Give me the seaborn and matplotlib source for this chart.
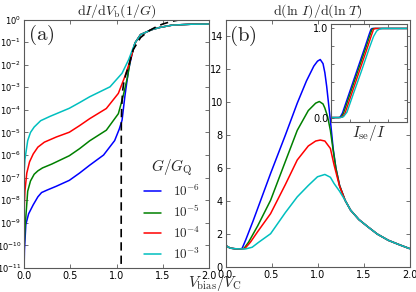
import numpy as np
import pandas as pd
import matplotlib.pyplot as plt
import seaborn as sns

# ---- data ----
g_labels = [r'$10^{-6}$', r'$10^{-5}$', r'$10^{-4}$', r'$10^{-3}$']
g_colors = ['#0000ff', '#008000', '#ff0000', '#00bfbf']

# panel (a): log10 of dI/dV, shared tail above V ~ 1.2
a_tail_x = [1.2, 1.26, 1.38, 1.47, 1.6, 1.8, 2.0]
a_tail_log = [-1.04, -0.67, -0.45, -0.35, -0.25, -0.21, -0.2]

a_blue_x = [0.0, 0.005, 0.02, 0.05, 0.1, 0.15, 0.19, 0.25, 0.35, 0.49, 0.6, 0.71, 0.86, 0.98,
            1.03, 1.06, 1.09, 1.13, 1.17]
a_blue_log = [-11.2, -10.2, -9.07, -8.6, -8.2, -7.85, -7.66, -7.55, -7.38, -7.12, -6.8, -6.45,
              -6.0, -5.36, -4.85, -4.46, -3.42, -2.23, -1.49]
a_green_x = [0.0, 0.01, 0.04, 0.07, 0.11, 0.15, 0.2, 0.3, 0.49, 0.6, 0.71, 0.89, 1.02, 1.07,
             1.12, 1.15]
a_green_log = [-10.3, -9.3, -7.6, -7.15, -6.85, -6.7, -6.57, -6.4, -6.03, -5.72, -5.37, -4.9,
               -4.17, -3.42, -2.53, -1.79]
a_red_x = [0.0, 0.01, 0.03, 0.06, 0.1, 0.15, 0.22, 0.35, 0.49, 0.6, 0.71, 0.89, 1.02, 1.09, 1.15]
a_red_log = [-8.6, -7.6, -6.8, -6.3, -5.95, -5.65, -5.43, -5.2, -4.99, -4.7, -4.39, -3.94,
             -3.27, -2.53, -1.79]
a_cyan_x = [0.0, 0.01, 0.04, 0.07, 0.11, 0.18, 0.28, 0.49, 0.6, 0.71, 0.93, 1.06, 1.13, 1.18]
a_cyan_log = [-6.9, -6.2, -5.36, -5.0, -4.76, -4.48, -4.29, -3.93, -3.68, -3.42, -2.98, -2.38,
              -1.79, -1.26]

# G -> 0 limit (dashed)
a_dash_x = [1.05, 1.052, 1.056, 1.065, 1.08, 1.1, 1.13, 1.18, 1.26, 1.35, 1.44, 1.5, 1.6, 1.7,
            1.85, 2.0]
a_dash_log = [-12.0, -4.6, -3.9, -3.2, -2.75, -2.45, -2.08, -1.34, -0.8, -0.5, -0.3, -0.2,
              -0.08, 0.0, 0.08, 0.15]

# panel (b): d(ln I)/d(ln T), shared tail
b_tail_x = [1.3, 1.36, 1.45, 1.55, 1.65, 1.77, 1.9, 2.0]
b_tail_y = [4.05, 3.45, 2.88, 2.43, 2.0, 1.62, 1.33, 1.12]

b_blue_x = [0.0, 0.05, 0.1, 0.15, 0.18, 0.22, 0.3, 0.49, 0.65, 0.78, 0.88, 0.96, 1.0, 1.03,
            1.06, 1.08, 1.1, 1.14, 1.17, 1.2, 1.24]
b_blue_y = [1.31, 1.15, 1.11, 1.1, 1.12, 1.65, 2.8, 5.68, 8.0, 9.95, 11.3, 12.2, 12.5, 12.6,
            12.35, 11.8, 10.96, 8.9, 7.2, 6.0, 4.95]
b_green_x = [0.0, 0.05, 0.1, 0.15, 0.2, 0.25, 0.35, 0.49, 0.65, 0.78, 0.9, 0.98, 1.02, 1.06,
             1.08, 1.11, 1.14, 1.17, 1.2, 1.24]
b_green_y = [1.31, 1.15, 1.11, 1.1, 1.12, 1.5, 2.5, 4.05, 6.4, 8.3, 9.5, 9.95, 10.05, 9.9,
             9.65, 9.13, 8.3, 7.1, 6.0, 4.95]
b_red_x = [0.0, 0.05, 0.1, 0.15, 0.21, 0.27, 0.35, 0.49, 0.65, 0.78, 0.9, 0.98, 1.03, 1.08,
           1.14, 1.18, 1.24]
b_red_y = [1.31, 1.15, 1.11, 1.1, 1.12, 1.5, 2.15, 3.24, 5.0, 6.5, 7.35, 7.65, 7.71, 7.65,
           7.2, 6.2, 4.9]
b_cyan_x = [0.0, 0.05, 0.1, 0.15, 0.22, 0.29, 0.36, 0.49, 0.65, 0.78, 0.9, 1.0, 1.08, 1.14,
            1.18, 1.24]
b_cyan_y = [1.31, 1.15, 1.11, 1.1, 1.1, 1.2, 1.5, 2.02, 3.3, 4.26, 4.95, 5.48, 5.62, 5.45,
            5.07, 4.6]

# inset: I_se / I
in_blue_x = [0.0, 0.2, 0.24, 0.3, 0.5, 0.7, 0.9, 1.0, 1.05, 1.08, 1.2, 2.0]
in_blue_y = [0.0, 0.0, 0.005, 0.05, 0.3, 0.55, 0.8, 0.93, 0.99, 1.0, 1.0, 1.0]
in_green_x = [0.0, 0.22, 0.27, 0.33, 0.53, 0.73, 0.93, 1.03, 1.08, 1.12, 1.25, 2.0]
in_green_y = [0.0, 0.0, 0.005, 0.05, 0.3, 0.55, 0.8, 0.93, 0.99, 1.0, 1.0, 1.0]
in_red_x = [0.0, 0.24, 0.3, 0.37, 0.57, 0.77, 0.97, 1.07, 1.12, 1.16, 1.3, 2.0]
in_red_y = [0.0, 0.0, 0.005, 0.05, 0.3, 0.55, 0.8, 0.93, 0.99, 1.0, 1.0, 1.0]
in_cyan_x = [0.0, 0.25, 0.33, 0.42, 0.6, 0.8, 1.0, 1.12, 1.2, 1.26, 1.35, 2.0]
in_cyan_y = [0.0, 0.0, 0.01, 0.06, 0.28, 0.52, 0.77, 0.91, 0.97, 0.99, 1.0, 1.0]


def long_df(xs, ys):
    parts = []
    for lab, x, y in zip(g_labels, xs, ys):
        parts.append(pd.DataFrame({'x': x, 'y': y, 'G': lab}))
    return pd.concat(parts, ignore_index=True)


df_a = long_df([a_blue_x + a_tail_x, a_green_x + a_tail_x, a_red_x + a_tail_x, a_cyan_x + a_tail_x],
               [10.0 ** np.array(l + a_tail_log) for l in (a_blue_log, a_green_log, a_red_log, a_cyan_log)])
df_b = long_df([b_blue_x + b_tail_x, b_green_x + b_tail_x, b_red_x + b_tail_x, b_cyan_x + b_tail_x],
               [b_blue_y + b_tail_y, b_green_y + b_tail_y, b_red_y + b_tail_y, b_cyan_y + b_tail_y])
df_in = long_df([in_blue_x, in_green_x, in_red_x, in_cyan_x],
                [in_blue_y, in_green_y, in_red_y, in_cyan_y])
df_dash = pd.DataFrame({'x': a_dash_x, 'y': 10.0 ** np.array(a_dash_log)})

# ---- style ----
sns.set_style('ticks')
plt.rcParams.update({
    'font.family': 'DejaVu Sans',
    'mathtext.fontset': 'cm',
    'axes.edgecolor': '0.35',
    'axes.linewidth': 0.8,
    'xtick.direction': 'in', 'ytick.direction': 'in',
    'xtick.top': True, 'ytick.right': True,
    'xtick.labelsize': 7, 'ytick.labelsize': 7,
    'xtick.major.size': 3, 'ytick.major.size': 3,
    'xtick.major.width': 0.6, 'ytick.major.width': 0.6,
    'xtick.color': '0.35', 'ytick.color': '0.35',
    'xtick.labelcolor': 'black', 'ytick.labelcolor': 'black',
    'xtick.major.pad': 2, 'ytick.major.pad': 2,
})

fig = plt.figure(figsize=(4.16, 2.92), dpi=100)
ax_a = fig.add_axes([24 / 416, 1 - 268 / 292, 185 / 416, 248.5 / 292])
ax_b = fig.add_axes([225.5 / 416, 1 - 267 / 292, 184 / 416, 247 / 292])
ax_in = fig.add_axes([331 / 416, 1 - 122 / 292, 76 / 416, 98 / 292])

# ---- panel (a) ----
ax_a.set_yscale('log')
sns.lineplot(data=df_a, x='x', y='y', hue='G', palette=g_colors, linewidth=1.1,
             estimator=None, ax=ax_a)
sns.lineplot(data=df_dash, x='x', y='y', color='black', linewidth=1.2, linestyle=(0, (5, 3)),
             estimator=None, ax=ax_a)
ax_a.set_xlim(0, 2)
ax_a.set_ylim(1e-11, 1)
ax_a.set_xticks([0, 0.5, 1.0, 1.5, 2.0])
ax_a.set_xticklabels(['0.0', '0.5', '1.0', '1.5', '2.0'])
exps = list(range(-11, 1))
ax_a.set_yticks([10.0 ** e for e in exps])
ax_a.set_yticklabels([r'$\mathregular{10^{%d}}$' % e for e in exps])
ax_a.tick_params(axis='y', labelsize=6)
ax_a.minorticks_off()
ax_a.set_xlabel('')
ax_a.set_ylabel('')
ax_a.set_title(r'$\mathrm{d}I/\mathrm{d}V_{\mathrm{b}}(1/G)$', fontsize=10, pad=3)
ax_a.text(0.02, 0.985, r'$\mathrm{(a)}$', transform=ax_a.transAxes, fontsize=15,
          va='top', ha='left')
handles, labels = ax_a.get_legend_handles_labels()
ax_a.legend(handles[:4], labels[:4], title=r'$G/G_{\mathrm{Q}}$', loc='lower right',
            bbox_to_anchor=(1.015, -0.022), frameon=False, fontsize=9.5, title_fontsize=11,
            handlelength=1.3, labelspacing=0.4, handletextpad=0.9)

# ---- panel (b) ----
sns.lineplot(data=df_b, x='x', y='y', hue='G', palette=g_colors, linewidth=1.1,
             estimator=None, legend=False, ax=ax_b)
ax_b.set_xlim(0, 2)
ax_b.set_ylim(0, 15)
ax_b.set_xticks([0, 0.5, 1.0, 1.5, 2.0])
ax_b.set_xticklabels(['0.0', '0.5', '1.0', '1.5', '2.0'])
ax_b.set_yticks(range(0, 15, 2))
ax_b.set_xlabel('')
ax_b.set_ylabel('')
ax_b.set_title(r'$\mathrm{d}(\ln\,I)/\mathrm{d}(\ln\,T)$', fontsize=10, pad=3)
ax_b.text(0.02, 0.985, r'$\mathrm{(b)}$', transform=ax_b.transAxes, fontsize=15,
          va='top', ha='left')

# ---- inset ----
sns.lineplot(data=df_in, x='x', y='y', hue='G', palette=g_colors, linewidth=1.0,
             estimator=None, legend=False, ax=ax_in)
ax_in.set_xlim(0, 2)
ax_in.set_ylim(-0.05, 1.05)
ax_in.set_xticks([0.5, 1.0, 1.5])
ax_in.set_xticklabels([])
ax_in.set_yticks([0, 0.2, 0.4, 0.6, 0.8, 1.0])
ax_in.set_yticklabels(['0.0', '', '', '', '', '1.0'])
ax_in.tick_params(length=2)
ax_in.set_ylabel('')
ax_in.set_xlabel(r'$I_{\mathrm{se}}/I$', fontsize=11, labelpad=-1)

fig.text(0.517, 0.03, r'$V_{\mathrm{bias}}/V_{\mathrm{C}}$', fontsize=11, ha='center',
         va='center')

plt.savefig('out.png', dpi=100)
